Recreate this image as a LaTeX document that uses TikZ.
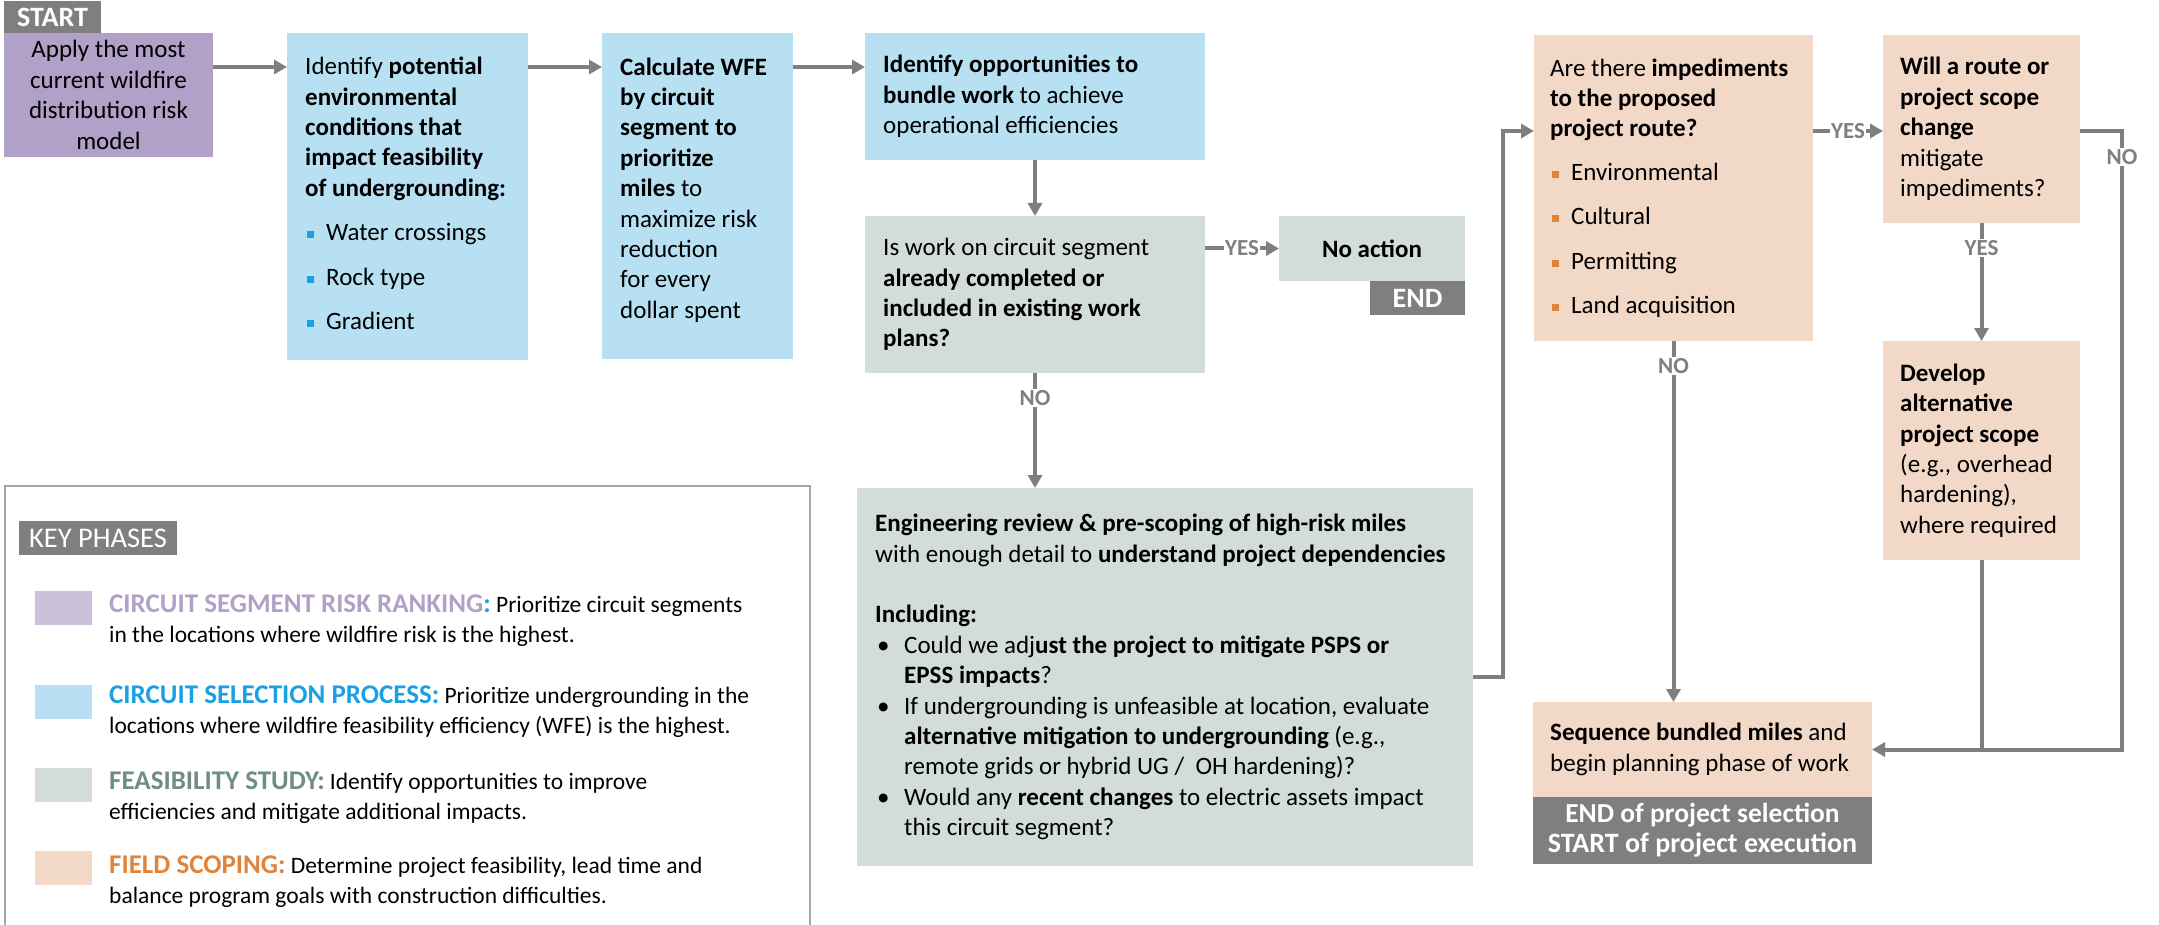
\documentclass[tikz,border=0pt]{standalone}
\usepackage{fontspec}
\setmainfont{Carlito}
\usetikzlibrary{arrows.meta,fit,calc}
\definecolor{cPurple}{HTML}{B1A0C7}
\definecolor{cPurpleL}{HTML}{CCC1DA}
\definecolor{cBlue}{HTML}{B7E1F3}
\definecolor{cBlueD}{HTML}{1BA1E2}
\definecolor{cGreen}{HTML}{D2DCD8}
\definecolor{cGreenD}{HTML}{6E8F80}
\definecolor{cPeach}{HTML}{F2D8C6}
\definecolor{cOrange}{HTML}{E0843C}
\definecolor{cGray}{HTML}{7F7F7F}
\definecolor{cFrame}{HTML}{A6A6A6}
\newcommand{\bodyfs}{\fontsize{25}{30.4}\selectfont}
\newcommand{\sqb}[1]{\hspace*{2pt}\textcolor{#1}{\rule[2.5pt]{7pt}{7pt}}\hspace{12pt}}
\newcommand{\dotb}{\makebox[29pt][l]{\hspace{2pt}\textbullet}}
\newcommand{\ttl}[2]{{\color{#1}\fontsize{27}{30}\selectfont\bfseries #2}}
\begin{document}
\begin{tikzpicture}[x=1pt,y=-1pt,
  box/.style={draw=none, inner sep=0pt, outer sep=0pt},
  txt/.style={inner sep=0pt, align=left, font=\bodyfs, anchor=west},
  ctxt/.style={inner sep=0pt, align=center, font=\bodyfs},
  tag/.style={box, fill=cGray},
  tagtxt/.style={inner sep=0pt, align=center, text=white, font=\fontsize{28}{30}\selectfont\bfseries},
  arr/.style={draw=cGray, line width=4pt, -{Triangle[length=13pt,width=14pt]}},
  ln/.style={draw=cGray, line width=4pt},
  lab/.style={fill=white, text=cGray, font=\fontsize{23}{24}\selectfont\bfseries, inner sep=1.5pt},
  legtxt/.style={inner sep=0pt, align=left, anchor=west, font=\fontsize{23.5}{30}\selectfont},
]
\useasboundingbox (0,0) rectangle (2159,925);

% ---------- boxes ----------
\node[tag, fit={(4,1) (101,33)}] (start) {};
\node[tagtxt] (startT) at (start.center) {START};
\node[box, fill=cPurple, fit={(4,33) (213,157)}] (purple) {};
\node[ctxt] (purpleT) at (purple.center) {Apply the most\\current wildfire\\distribution risk\\model};

\node[box, fill=cBlue, fit={(287,33) (528,360)}] (blue1) {};
\node[txt] (blue1T) at ([xshift=18pt,yshift=3pt]blue1.west) {Identify \textbf{potential}\\
\textbf{environmental}\\
\textbf{conditions that}\\
\textbf{impact feasibility}\\
\textbf{of undergrounding:}\\[14pt]
\sqb{cBlueD}Water crossings\\[14pt]
\sqb{cBlueD}Rock type\\[14pt]
\sqb{cBlueD}Gradient};

\node[box, fill=cBlue, fit={(602,33) (793,359)}] (blue2) {};
\node[txt] (blue2T) at ([xshift=18pt,yshift=6pt]blue2.west) {\textbf{Calculate WFE}\\
\textbf{by circuit}\\
\textbf{segment to}\\
\textbf{prioritize}\\
\textbf{miles} to\\
maximize risk\\
reduction\\
for every\\
dollar spent};

\node[box, fill=cBlue, fit={(865,33) (1205,160)}] (blue3) {};
\node[txt] (blue3T) at ([xshift=18pt]blue3.west) {\textbf{Identify opportunities to}\\
\textbf{bundle work} to achieve\\
operational efficiencies};

\node[box, fill=cGreen, fit={(865,216) (1205,373)}] (gray1) {};
\node[txt] (gray1T) at ([xshift=18pt]gray1.west) {Is work on circuit segment\\
\textbf{already completed or}\\
\textbf{included in existing work}\\
\textbf{plans?}};

\node[box, fill=cGreen, fit={(1279,216) (1465,281)}] (noact) {};
\node[ctxt] (noactT) at (noact.center) {\textbf{No action}};
\node[tag, fit={(1370,281) (1465,315)}] (end1) {};
\node[tagtxt] (end1T) at (end1.center) {END};

\node[box, fill=cGreen, fit={(857,488) (1473,866)}] (eng) {};
\node[txt] (engT) at ([xshift=18pt]eng.west) {\textbf{Engineering review \& pre-scoping of high-risk miles}\\
with enough detail to \textbf{understand project dependencies}\\[30.4pt]
\textbf{Including:}\\
\dotb Could we adj\textbf{ust the project to mitigate PSPS or}\\
\hspace*{29pt}\textbf{EPSS impacts}?\\
\dotb If undergrounding is unfeasible at location, evaluate\\
\hspace*{29pt}\textbf{alternative mitigation to undergrounding} (e.g.,\\
\hspace*{29pt}remote grids or hybrid UG /\ \ OH hardening)?\\
\dotb Would any \textbf{recent changes} to electric assets impact\\
\hspace*{29pt}this circuit segment?};

\node[box, fill=cPeach, fit={(1534,35) (1813,341)}] (imped) {};
\node[txt] (impedT) at ([xshift=16pt]imped.west) {Are there \textbf{impediments}\\
\textbf{to the proposed}\\
\textbf{project route?}\\[13pt]
\sqb{cOrange}Environmental\\[14pt]
\sqb{cOrange}Cultural\\[14pt]
\sqb{cOrange}Permitting\\[14pt]
\sqb{cOrange}Land acquisition};

\node[box, fill=cPeach, fit={(1883,35) (2080,223)}] (route) {};
\node[txt] (routeT) at ([xshift=17pt]route.west) {\textbf{Will a route or}\\
\textbf{project scope}\\
\textbf{change}\\
mitigate\\
impediments?};

\node[box, fill=cPeach, fit={(1883,341) (2080,560)}] (develop) {};
\node[txt] (developT) at ([xshift=17pt]develop.west) {\textbf{Develop}\\
\textbf{alternative}\\
\textbf{project scope}\\
(e.g., overhead\\
hardening),\\
where required};

\node[box, fill=cPeach, fit={(1533,702) (1872,797)}] (seq) {};
\node[txt] (seqT) at ([xshift=17pt]seq.west) {\textbf{Sequence bundled miles} and\\
begin planning phase of work};
\node[tag, fit={(1533,797) (1872,864)}] (endsel) {};
\node[tagtxt] (endselT) at (endsel.center) {\fontsize{27.5}{30}\selectfont END of project selection\\START of project execution};

% ---------- connectors ----------
\coordinate (rowA) at (0,67);
\coordinate (c1) at (1503,131);
\coordinate (c2) at (2122,131);
\draw[arr] (purple.east |- rowA) -- (blue1.west |- rowA);
\draw[arr] (blue1.east |- rowA) -- (blue2.west |- rowA);
\draw[arr] (blue2.east |- rowA) -- (blue3.west |- rowA);
\draw[arr] (blue3.south) -- (gray1.north);
\draw[arr] (gray1.east |- noact.west) -- node[lab] (yes1) {YES} (noact.west);
\draw[arr] (gray1.south) -- node[lab, pos=0.22] (no1) {NO} (gray1.south |- eng.north);
\draw[arr] (eng.east) -| (c1) -- (imped.west |- c1);
\draw[arr] (imped.east |- c1) -- node[lab] (yes2) {YES} (route.west |- c1);
\draw[arr] (route.south) -- node[lab, pos=0.21] (yes3) {YES} (develop.north);
\draw[arr] (route.east |- c2) -- (c2) |- (seq.east);
\node[lab] (no3) at (2122,157) {NO};
\draw[ln] (develop.south) -- (develop.south |- seq.east);
\draw[arr] (imped.south) -- node[lab, pos=0.07] (no2) {NO} (imped.south |- seq.north);

% ---------- legend ----------
\node[draw=cFrame, line width=2.5pt, inner sep=0pt, fit={(5,486) (810,945)}] (legend) {};
\node[tag, fit={(19,521) (177,555)}] (keyph) {};
\node[inner sep=0pt, text=white, font=\fontsize{28.5}{30}\selectfont] (keyphT) at (keyph.center) {KEY PHASES};

\node[box, fill=cPurpleL, fit={(35,591) (92,625)}] (sw1) {};
\node[box, fill=cBlue, fit={(35,685) (92,719)}] (sw2) {};
\node[box, fill=cGreen, fit={(35,768) (92,802)}] (sw3) {};
\node[box, fill=cPeach, fit={(35,851) (92,885)}] (sw4) {};

\node[legtxt] (lg1) at (109,621) {\ttl{cPurple}{CIRCUIT SEGMENT RISK RANKING}\ttl{cBlueD}{:} Prioritize circuit segments\\in the locations where wildfire risk is the highest.};
\node[legtxt] (lg2) at (109,712) {\ttl{cBlueD}{CIRCUIT SELECTION PROCESS:} Prioritize undergrounding in the\\locations where wildfire feasibility efficiency (WFE) is the highest.};
\node[legtxt] (lg3) at (109,798) {\ttl{cGreenD}{FEASIBILITY STUDY:} Identify opportunities to improve\\efficiencies and mitigate additional impacts.};
\node[legtxt] (lg4) at (109,882) {\ttl{cOrange}{FIELD SCOPING:} Determine project feasibility, lead time and\\balance program goals with construction difficulties.};
\end{tikzpicture}
\end{document}
